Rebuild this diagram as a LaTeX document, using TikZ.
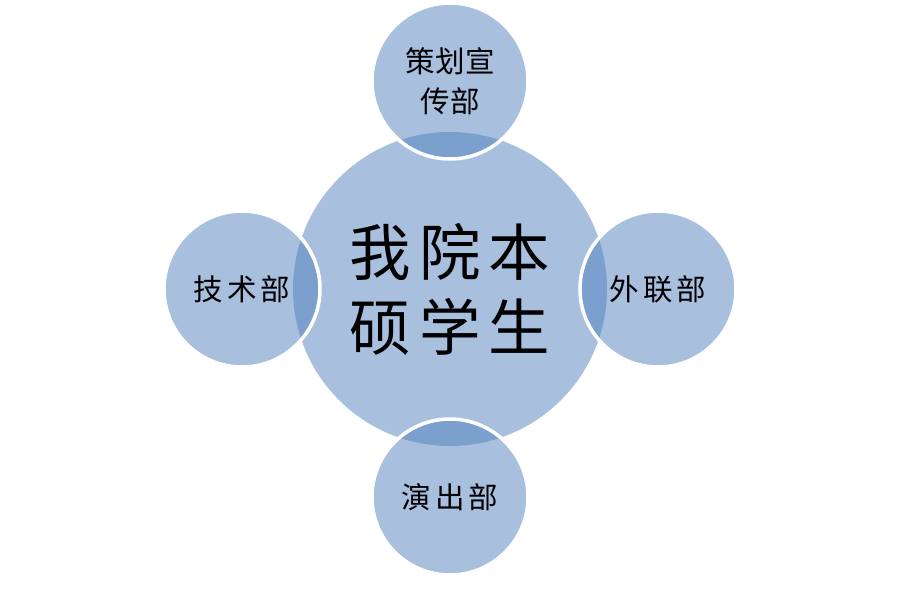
\documentclass[tikz,border=0pt]{standalone}
\usepackage{fontspec}
\newfontfamily\cjkbig[LetterSpace=13]{Noto Sans CJK SC}
\newfontfamily\cjkwide[LetterSpace=14]{Noto Sans CJK SC}
\newfontfamily\cjknarrow[LetterSpace=2]{Noto Sans CJK SC}
\definecolor{vennlight}{RGB}{168,191,222}
\definecolor{venndark}{RGB}{124,160,205}
\begin{document}
\begin{tikzpicture}[
    label big/.style={align=center,font=\cjkbig\fontsize{17.5}{21.3}\selectfont},
    label part/.style={align=center,font=\cjkwide\fontsize{8.4}{11.4}\selectfont},
    label top/.style={align=center,font=\cjknarrow\fontsize{8.4}{11.4}\selectfont},
    rim/.style={draw=white,line width=1pt}]
  \useasboundingbox (-4.5,-3.11) rectangle (4.48,2.89);

  % middle circle and the four parts round it
  \coordinate (core) at (0,0);
  \fill[vennlight] (core) circle (1.57);
  \foreach \a/\name in {90/top,180/left,0/right,270/bottom}
    \coordinate (\name) at (\a:2.08);

  \foreach \name in {top,left,right,bottom}{
    \fill[vennlight] (\name) circle (0.78);
    \begin{scope}
      \clip (core) circle (1.57);
      \fill[venndark] (\name) circle (0.78);
    \end{scope}
    \draw[rim] (\name) circle (0.78);
  }

  \node[label big] (corelabel) at (core) {我院本\\硕学生};
  \node[label top] (toplabel) at (top) {策划宣\\传部};
  \node[label part] (leftlabel) at (left) {技术部};
  \node[label part] (rightlabel) at (right) {外联部};
  \node[label part] (bottomlabel) at (bottom) {演出部};
\end{tikzpicture}
\end{document}
